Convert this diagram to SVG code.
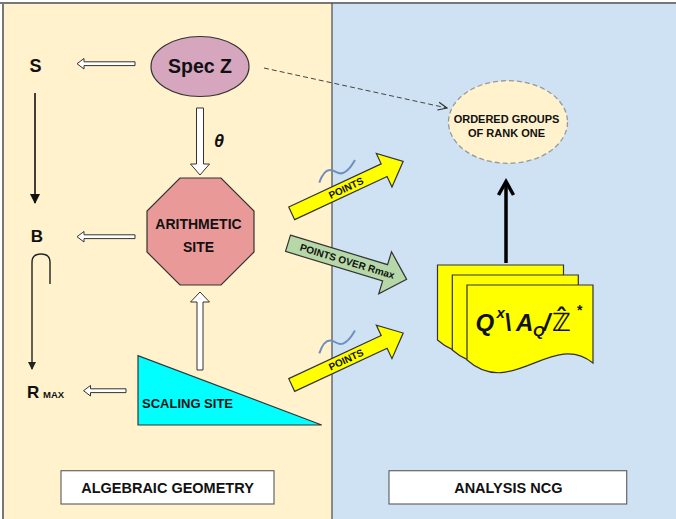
<svg xmlns="http://www.w3.org/2000/svg" width="676" height="519" viewBox="0 0 676 519">
<style>
text{font-family:"Liberation Sans",Arial,sans-serif;font-weight:bold;fill:#111}
.st{stroke:#333;stroke-width:1.2}
.hollow{fill:#fff;stroke:#333;stroke-width:1}
.box{fill:#fff;stroke:#666;stroke-width:1.2}
.page{fill:#ffff00;stroke:#333;stroke-width:1.2}
</style>
<defs>
<marker id="solidHead" markerWidth="10" markerHeight="10" refX="9" refY="5" orient="auto" markerUnits="userSpaceOnUse">
<path d="M0,0 L10,5 L0,10 Z" fill="#111"/>
</marker>
<marker id="smallHead" markerWidth="8" markerHeight="8" refX="7" refY="4" orient="auto" markerUnits="userSpaceOnUse">
<path d="M0,0 L8,4 L0,8 Z" fill="#222"/>
</marker>
<marker id="openHead" markerWidth="10" markerHeight="10" refX="9" refY="5" orient="auto" markerUnits="userSpaceOnUse">
<path d="M0,1 L9,5 L0,9" fill="none" stroke="#333" stroke-width="1.2"/>
</marker>
<path id="doc" d="M0,0 H126 V78 C85,45 45,115 0,75 Z"/>
</defs>

<!-- panels -->
<rect x="0" y="0" width="676" height="519" fill="#fff"/>
<rect x="3" y="3" width="329" height="516" fill="#fff2cc"/>
<rect x="332" y="3" width="344" height="516" fill="#cfe2f3"/>
<line x1="0" y1="3" x2="676" y2="3" stroke="#777" stroke-width="2"/>
<line x1="3" y1="3" x2="3" y2="519" stroke="#777" stroke-width="2"/>
<line x1="332" y1="3" x2="332" y2="519" stroke="#555" stroke-width="1.3"/>

<g id="connectors">
<polygon class="hollow" points="77,63.7 84,58.5 84,61.8 135,61.8 135,65.6 84,65.6 84,69"/>
<polygon class="hollow" points="77,236.7 84,231.5 84,234.8 135,234.8 135,238.6 84,238.6 84,242"/>
<polygon class="hollow" points="83.5,390.7 90.5,385.5 90.5,388.8 126,388.8 126,392.6 90.5,392.6 90.5,396"/>
<polygon class="hollow" points="196.5,108 203.5,108 203.5,164 209.5,164 200,175 190.5,164 196.5,164"/>
<polygon class="hollow" points="197,370 203,370 203,302 209.5,302 200,292 190.5,302 197,302"/>
<line x1="35" y1="93" x2="35" y2="203" stroke="#111" stroke-width="1.6" marker-end="url(#solidHead)"/>
<path d="M50,284 V262 Q50,254 41,254 Q32,254 32,262 V369" fill="none" stroke="#222" stroke-width="1.4" marker-end="url(#smallHead)"/>
<line x1="264" y1="68" x2="447" y2="108" stroke="#444" stroke-width="1" stroke-dasharray="5,3" marker-end="url(#openHead)"/>
<line x1="506" y1="263" x2="506" y2="183" stroke="#000" stroke-width="3.5"/>
<polyline points="498.5,195 506,181.5 513.5,195" fill="none" stroke="#000" stroke-width="3.5"/>
<g transform="translate(291.7,213.3) rotate(-25)">
<polygon class="st" fill="#ffff00" points="0,-7 102,-7 102,-18.5 123,0 102,18.5 102,7 0,7"/>
<text x="60" y="3.5" font-size="10" text-anchor="middle">POINTS</text>
</g>
<g transform="translate(291.7,385) rotate(-25)">
<polygon class="st" fill="#ffff00" points="0,-7 102,-7 102,-18.5 123,0 102,18.5 102,7 0,7"/>
<text x="60" y="3.5" font-size="10" text-anchor="middle">POINTS</text>
</g>
<g transform="translate(288,243.3) rotate(16.9)">
<polygon class="st" fill="#b6d7a8" points="0,-8.5 101.5,-8.5 101.5,-22 124,0 101.5,22 101.5,8.5 0,8.5"/>
<text x="62" y="3.5" font-size="10" text-anchor="middle">POINTS OVER Rmax</text>
</g>
<path d="M319.3,182.7 C322,175 325,170 330,170 C336,170 337,175 343,173 C349,171 352,165 355,160" fill="none" stroke="#6f8fbf" stroke-width="2"/>
<path d="M319.3,353.3 C322,345.6 325,340.6 330,340.6 C336,340.6 337,345.6 343,343.6 C349,341.6 352,335.6 355,330.6" fill="none" stroke="#6f8fbf" stroke-width="2"/>
</g>

<g id="S"><text x="35.5" y="72" font-size="18" text-anchor="middle">S</text></g>
<g id="B"><text x="37" y="242" font-size="17" text-anchor="middle">B</text></g>
<g id="Rmax"><text x="27" y="398" font-size="17">R</text><text x="43" y="398" font-size="9.5">MAX</text></g>

<g id="specZ">
<ellipse cx="200" cy="66.5" rx="49" ry="30" fill="#d5a6bd" stroke="#333" stroke-width="1.2"/>
<text x="200" y="73" font-size="19.5" text-anchor="middle">Spec Z</text>
</g>
<g id="theta"><text x="219" y="147" font-size="18" font-style="italic" text-anchor="middle">θ</text></g>

<g id="arithmetic">
<polygon points="180,178 221,178 254,211 254,252 221,285 180,285 147,252 147,211" fill="#ea9999" stroke="#333" stroke-width="1.2"/>
<text x="198.5" y="229" font-size="14" text-anchor="middle">ARITHMETIC</text>
<text x="198.5" y="252" font-size="14" text-anchor="middle">SITE</text>
</g>

<g id="scaling">
<polygon points="138,355.7 138,425 321.7,425" fill="#00ffff" stroke="#333" stroke-width="1.2"/>
<text x="142" y="407.5" font-size="13">SCALING SITE</text>
</g>

<g id="ordered">
<ellipse cx="508" cy="122" rx="59.5" ry="41.3" fill="#fff2cc" stroke="#999" stroke-width="1.3" stroke-dasharray="5,3"/>
<text x="506.5" y="123.3" font-size="11" text-anchor="middle">ORDERED GROUPS</text>
<text x="506.5" y="137.3" font-size="11" text-anchor="middle">OF RANK ONE</text>
</g>

<g id="adeles">
<use href="#doc" class="page" transform="translate(437.5,265)"/>
<use href="#doc" class="page" transform="translate(452.3,275)"/>
<use href="#doc" class="page" transform="translate(467,285)"/>
<text y="330.7" font-size="24" font-style="italic"><tspan x="475.5">Q</tspan><tspan x="496.5" y="318" font-size="15">x</tspan><tspan x="504.5" y="330.7">\</tspan><tspan x="516">A</tspan><tspan x="533" y="336" font-size="15">Q</tspan><tspan x="543.5" y="330.7">/</tspan><tspan x="552" style="font-family:'DejaVu Sans',sans-serif;font-style:normal" font-size="25">ℤ̂</tspan><tspan x="577" y="315" font-size="14" style="font-style:normal">*</tspan></text>
</g>

<g id="algebraic">
<rect class="box" x="61" y="470.7" width="213" height="33.3"/>
<text x="167.5" y="492.5" font-size="14.5" text-anchor="middle">ALGEBRAIC GEOMETRY</text>
</g>
<g id="analysis">
<rect class="box" x="389" y="470.7" width="237.7" height="33.3"/>
<text x="508.3" y="492.5" font-size="14.5" text-anchor="middle">ANALYSIS NCG</text>
</g>
</svg>
